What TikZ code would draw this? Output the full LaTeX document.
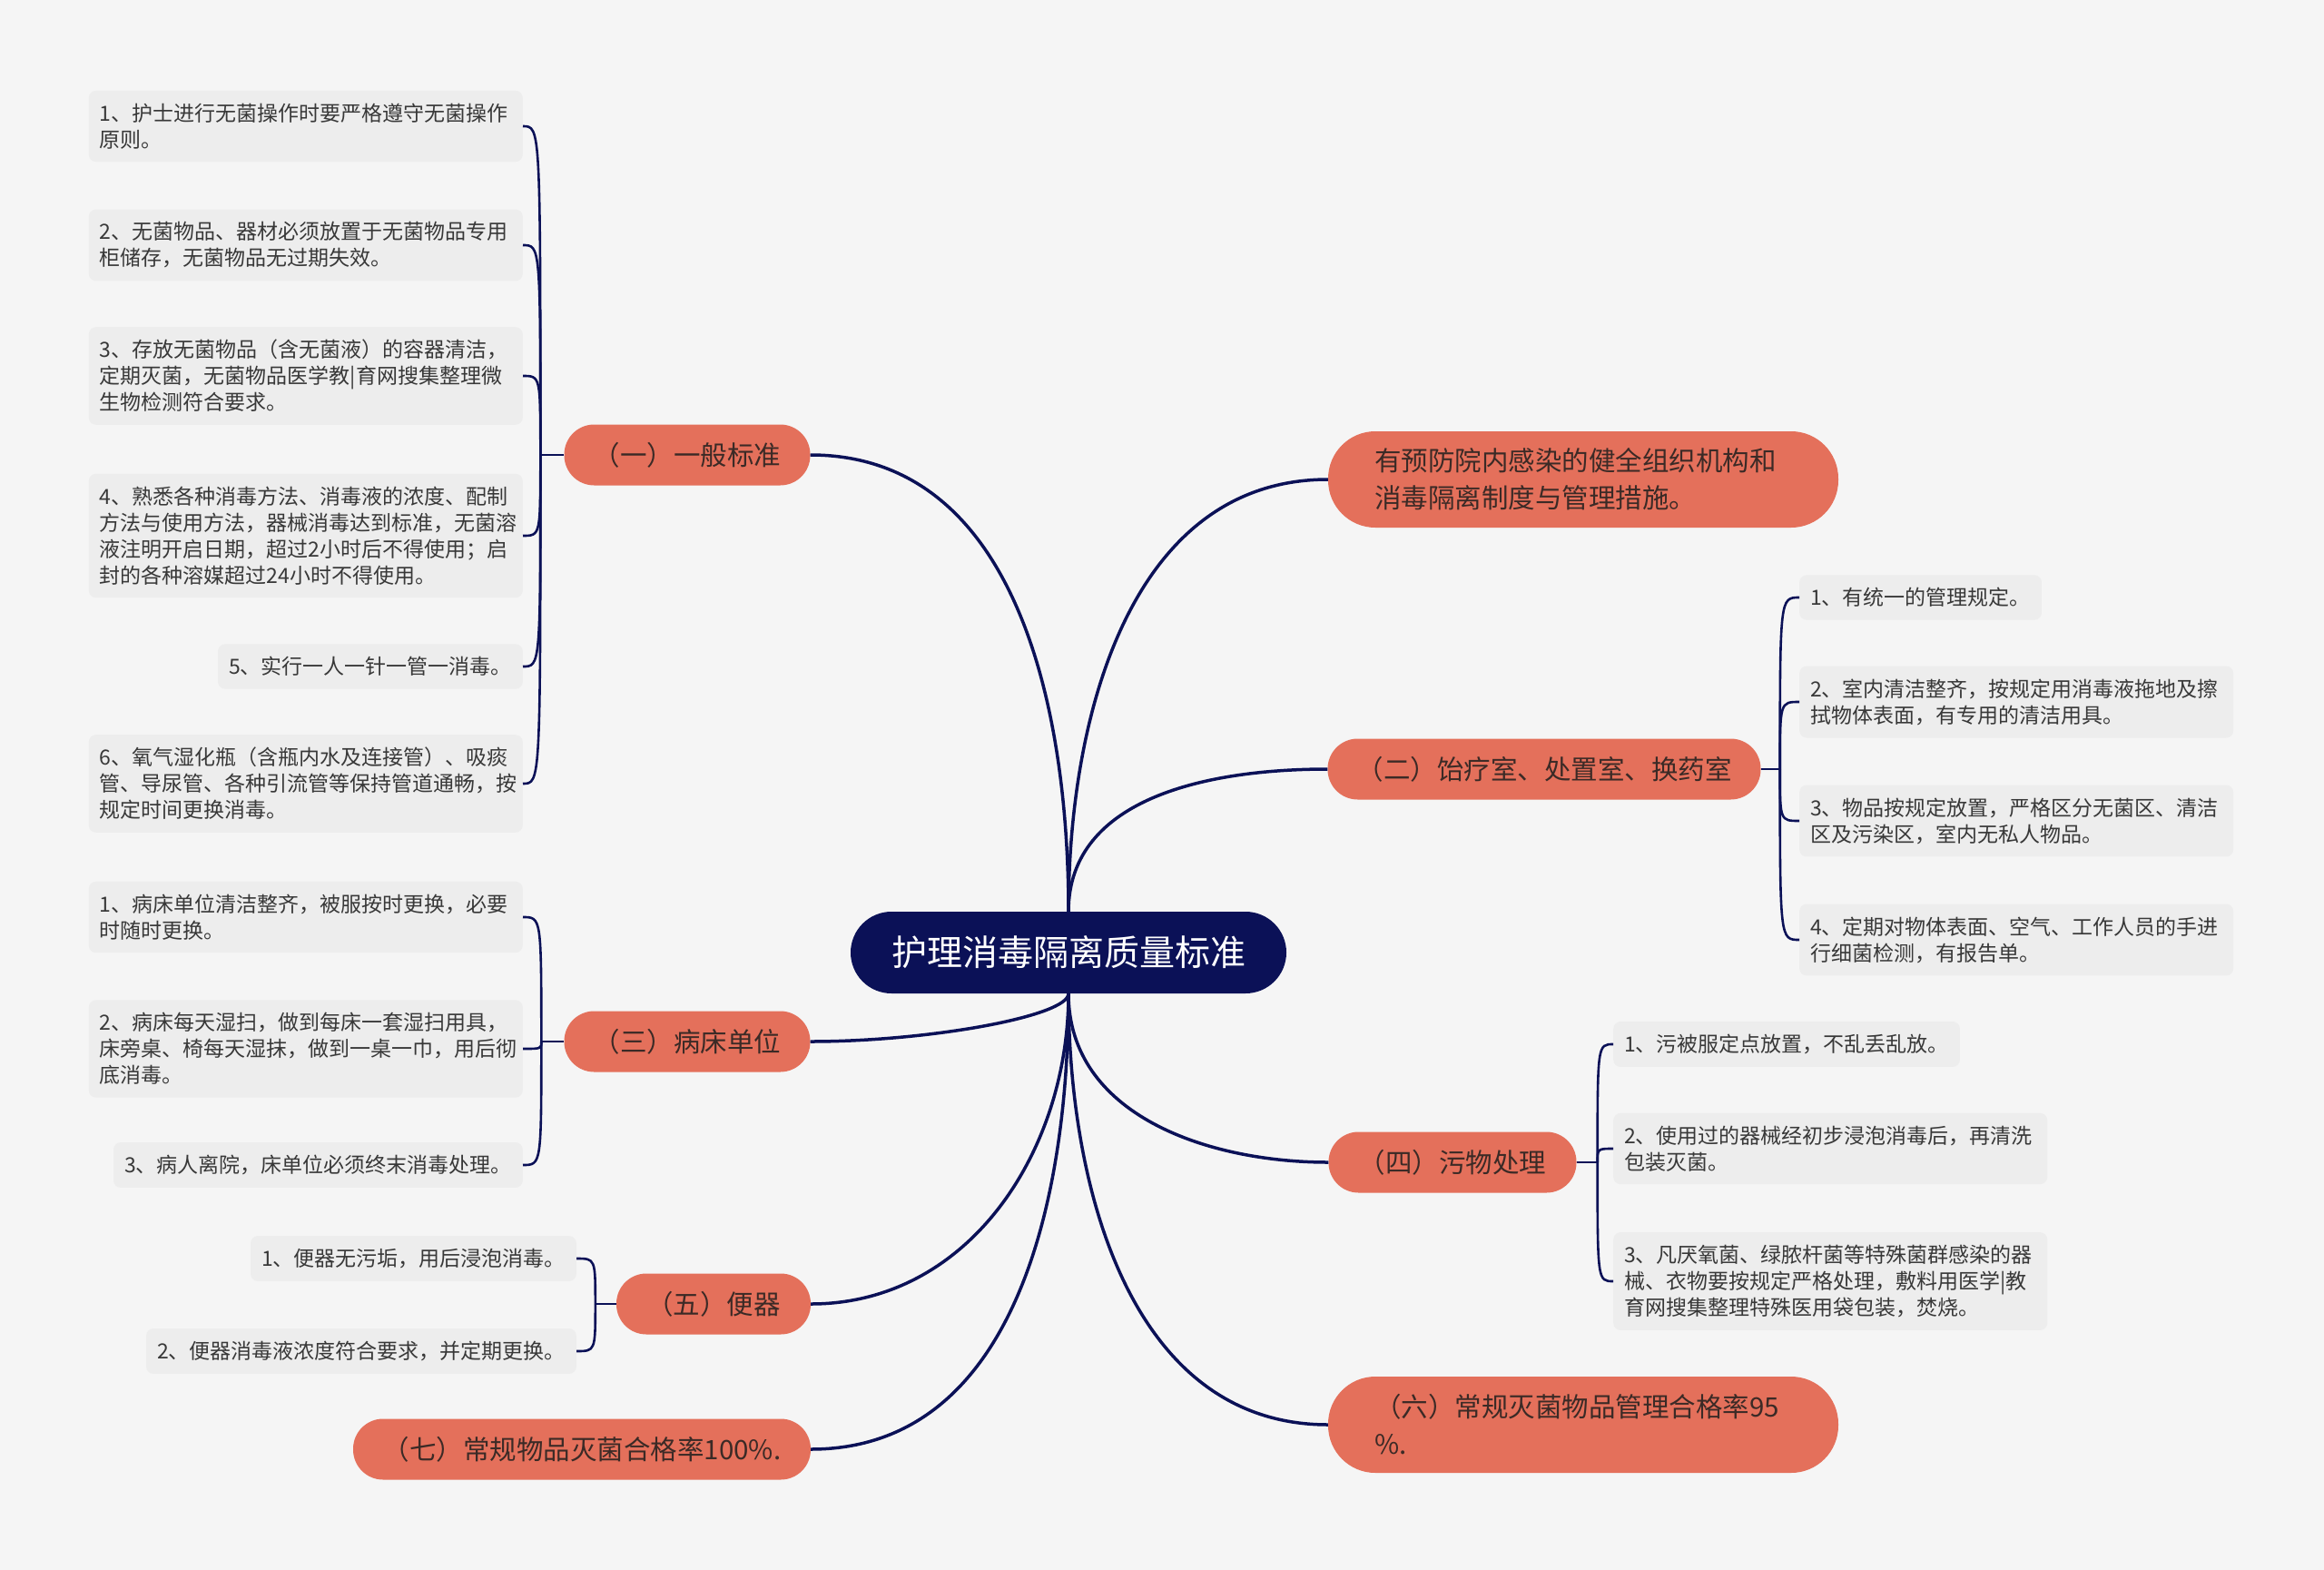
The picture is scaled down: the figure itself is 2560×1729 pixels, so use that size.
\documentclass[tikz,border=0pt]{standalone}
\usepackage{fontspec}
\usepackage{tikz}
\usetikzlibrary{positioning,calc}
\newfontfamily\cjkfont{Noto Sans CJK SC}
\definecolor{pagebg}{HTML}{F5F5F5}
\definecolor{navy}{HTML}{0B1157}
\definecolor{salmon}{HTML}{E4705B}
\definecolor{leafbg}{HTML}{EDEDED}
\definecolor{leaftext}{HTML}{383838}
\definecolor{branchtext}{HTML}{3B2A26}

\begin{document}
\begin{tikzpicture}[x=1pt, y=1pt,
  root/.style={fill=navy, text=white, rounded corners=45pt, minimum width=480pt, minimum height=90pt,
               font=\cjkfont\fontsize{39}{46}\selectfont},
  branch/.style={fill=salmon, text=branchtext, rounded corners=33pt, minimum height=67pt,
                 font=\cjkfont\fontsize{29.5}{41}\selectfont},
  twoline/.style={align=left, text width=460pt, inner xsep=51pt, minimum height=106pt, rounded corners=52pt},
  leaf/.style={fill=leafbg, text=leaftext, rounded corners=8pt, inner xsep=12pt, inner ysep=14pt,
               align=left, font=\cjkfont\fontsize{23}{29}\selectfont},
  wide/.style={text width=454pt},
  link/.style={draw=navy, line width=3.5pt},
  twig/.style={draw=navy, line width=2.6pt}]
  \fill[pagebg] (0,0) rectangle (2560,-1729);

  \node[root] (root) at (1177,-1049) {护理消毒隔离质量标准};

  % main branches
  \node[branch, minimum width=271pt] (gen) at (757,-501) {（一）一般标准};
  \node[branch, twoline] (org) at (1744,-528) {有预防院内感染的健全组织机构和\\消毒隔离制度与管理措施。};
  \node[branch, minimum width=477pt] (room) at (1701,-847) {（二）饴疗室、处置室、换药室};
  \node[branch, minimum width=271pt] (bed) at (757,-1147) {（三）病床单位};
  \node[branch, minimum width=273pt] (waste) at (1600,-1280) {（四）污物处理};
  \node[branch, minimum width=214pt] (pan) at (786,-1436) {（五）便器};
  \node[branch, twoline] (rate95) at (1744,-1569) {（六）常规灭菌物品管理合格率95\\\%.};
  \node[branch, minimum width=504pt] (rate100) at (641,-1596) {（七）常规物品灭菌合格率100\%.};

  % leaves of (一)
  \node[leaf, wide, anchor=east] (g1) at (576,-139) {1、护士进行无菌操作时要严格遵守无菌操作\\原则。};
  \node[leaf, wide, anchor=east] (g2) at (576,-270) {2、无菌物品、器材必须放置于无菌物品专用\\柜储存，无菌物品无过期失效。};
  \node[leaf, wide, anchor=east] (g3) at (576,-414) {3、存放无菌物品（含无菌液）的容器清洁，\\定期灭菌，无菌物品医学教|育网搜集整理微\\生物检测符合要求。};
  \node[leaf, wide, anchor=east] (g4) at (576,-590) {4、熟悉各种消毒方法、消毒液的浓度、配制\\方法与使用方法，器械消毒达到标准，无菌溶\\液注明开启日期，超过2小时后不得使用；启\\封的各种溶媒超过24小时不得使用。};
  \node[leaf, anchor=east] (g5) at (576,-734) {5、实行一人一针一管一消毒。};
  \node[leaf, wide, anchor=east] (g6) at (576,-863) {6、氧气湿化瓶（含瓶内水及连接管）、吸痰\\管、导尿管、各种引流管等保持管道通畅，按\\规定时间更换消毒。};

  % leaves of (二)
  \node[leaf, anchor=west] (r1) at (1982,-658) {1、有统一的管理规定。};
  \node[leaf, wide, anchor=west] (r2) at (1982,-773) {2、室内清洁整齐，按规定用消毒液拖地及擦\\拭物体表面，有专用的清洁用具。};
  \node[leaf, wide, anchor=west] (r3) at (1982,-904) {3、物品按规定放置，严格区分无菌区、清洁\\区及污染区，室内无私人物品。};
  \node[leaf, wide, anchor=west] (r4) at (1982,-1035) {4、定期对物体表面、空气、工作人员的手进\\行细菌检测，有报告单。};

  % leaves of (三)
  \node[leaf, wide, anchor=east] (b1) at (576,-1010) {1、病床单位清洁整齐，被服按时更换，必要\\时随时更换。};
  \node[leaf, wide, anchor=east] (b2) at (576,-1155) {2、病床每天湿扫，做到每床一套湿扫用具，\\床旁桌、椅每天湿抹，做到一桌一巾，用后彻\\底消毒。};
  \node[leaf, anchor=east] (b3) at (576,-1283) {3、病人离院，床单位必须终末消毒处理。};

  % leaves of (四)
  \node[leaf, anchor=west] (w1) at (1777,-1150) {1、污被服定点放置，不乱丢乱放。};
  \node[leaf, wide, anchor=west] (w2) at (1777,-1265) {2、使用过的器械经初步浸泡消毒后，再清洗\\包装灭菌。};
  \node[leaf, wide, anchor=west] (w3) at (1777,-1411) {3、凡厌氧菌、绿脓杆菌等特殊菌群感染的器\\械、衣物要按规定严格处理，敷料用医学|教\\育网搜集整理特殊医用袋包装，焚烧。};

  % leaves of (五)
  \node[leaf, anchor=east] (p1) at (635,-1386) {1、便器无污垢，用后浸泡消毒。};
  \node[leaf, anchor=east] (p2) at (635,-1488) {2、便器消毒液浓度符合要求，并定期更换。};

  % root to branches
  \draw[link] (root.north) to[out=90,in=0] (gen.east);
  \draw[link] (root.north) to[out=90,in=180] (org.west);
  \draw[link] (root.north) to[out=90,in=180] (room.west);
  \draw[link] (root.south) .. controls +(0,-25pt) and +(130pt,0) .. (bed.east);
  \draw[link] (root.south) to[out=-90,in=180] (waste.west);
  \draw[link] (root.south) to[out=-90,in=0] (pan.east);
  \draw[link] (root.south) to[out=-90,in=180] (rate95.west);
  \draw[link] (root.south) to[out=-90,in=0] (rate100.east);

  % branches to leaves
  \coordinate[left=26pt of gen.west] (genhub);
  \coordinate[right=21pt of room.east] (roomhub);
  \coordinate[left=25pt of bed.west] (bedhub);
  \coordinate[right=23pt of waste.east] (wastehub);
  \coordinate[left=23pt of pan.west] (panhub);
  \draw[twig] (gen.west) -- (genhub);
  \draw[twig] (room.east) -- (roomhub);
  \draw[twig] (bed.west) -- (bedhub);
  \draw[twig] (waste.east) -- (wastehub);
  \draw[twig] (pan.west) -- (panhub);
  \foreach \n in {g1,g2,g3,g4,g5,g6}
    \draw[twig] (genhub) .. controls (genhub |- \n.east) .. (\n.east);
  \foreach \n in {r1,r2,r3,r4}
    \draw[twig] (roomhub) .. controls (roomhub |- \n.west) .. (\n.west);
  \foreach \n in {b1,b2,b3}
    \draw[twig] (bedhub) .. controls (bedhub |- \n.east) .. (\n.east);
  \foreach \n in {w1,w2,w3}
    \draw[twig] (wastehub) .. controls (wastehub |- \n.west) .. (\n.west);
  \foreach \n in {p1,p2}
    \draw[twig] (panhub) .. controls (panhub |- \n.east) .. (\n.east);
\end{tikzpicture}
\end{document}
